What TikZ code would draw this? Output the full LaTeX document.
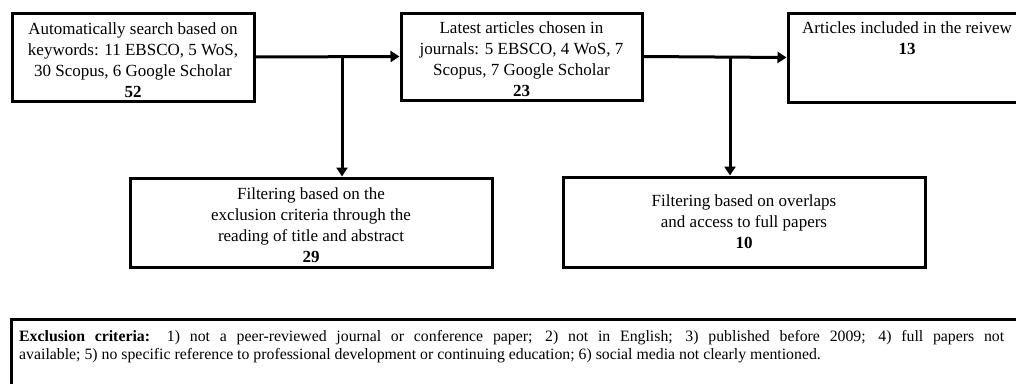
\documentclass[tikz,border=0pt]{standalone}
\usepackage{fontspec}
\setmainfont{Liberation Serif}
\usetikzlibrary{arrows.meta}
\newcommand{\topstrut}{\rule{0pt}{18pt}}
\begin{document}
\begin{tikzpicture}[x=1pt,y=-1pt,
  box/.style={draw, line width=3pt, inner sep=0pt, align=center, font=\fontsize{17}{21}\selectfont},
  txt/.style={inner sep=0pt, align=center, font=\fontsize{17}{21}\selectfont},
  arr/.style={line width=3pt, -{Triangle[length=9pt,width=11pt]}}]
\useasboundingbox (0,0) rectangle (1016,383);
\clip (0,0) rectangle (1016,383);
\node[box, minimum width=242pt, minimum height=88pt] (box1) at (133,57)
  {\topstrut Automatically search based on\\keywords: 11 EBSCO, 5 WoS,\\30 Scopus, 6 Google Scholar\\\textbf{52}};
\node[box, minimum width=241pt, minimum height=87pt] (box2) at (521.5,56.5)
  {\topstrut Latest articles chosen in\\journals: 5 EBSCO, 4 WoS, 7\\Scopus, 7 Google Scholar\\\textbf{23}};
\node[box, minimum width=238pt, minimum height=89pt] (box3) at (907,57.5) {};
\node[txt, anchor=north] (box3t) at (907,22) {Articles included in the reivew\\\textbf{13}};
\node[box, minimum width=362pt, minimum height=89pt] (f1) at (311,222.5)
  {\topstrut Filtering based on the\\exclusion criteria through the\\reading of title and abstract\\\textbf{29}};
\node[box, minimum width=362pt, minimum height=90pt] (f2) at (744,222)
  {Filtering based on overlaps\\and access to full papers\\\textbf{10}};
\node[box, minimum width=1019pt, minimum height=81pt] (ex) at (520.5,359.5) {};
\node[inner sep=0pt, anchor=base west, font=\fontsize{15.8}{18}\selectfont] (ext) at (19,341)
  {\parbox[t]{985pt}{\raggedright\makebox[985pt][s]{\textbf{Exclusion criteria:} 1) not a peer-reviewed journal or conference paper; 2) not in English; 3) published before 2009; 4) full papers not}\\available; 5) no specific reference to professional development or continuing education; 6) social media not clearly mentioned.}};
\draw[arr] (box1.east) -- (box2.west);
\draw[arr] (box2.east) -- (box3.west);
\coordinate (j1) at (342,0 |- box1.east);
\coordinate (j2) at (730,0 |- box2.east);
\draw[arr] (j1) -- (j1 |- f1.north);
\draw[arr] (j2) -- (j2 |- f2.north);
\end{tikzpicture}
\end{document}
